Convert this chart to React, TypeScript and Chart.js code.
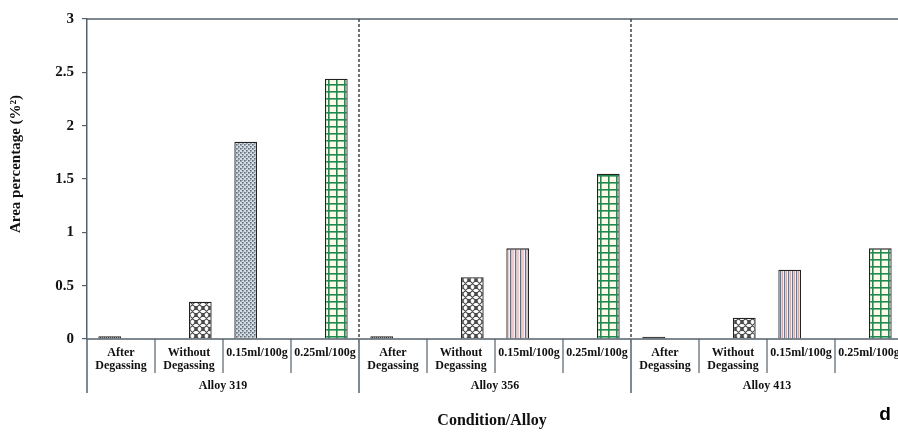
import React, { useEffect, useRef } from "react";
import { Chart, registerables } from "chart.js";

Chart.register(...registerables);

// Groups and conditions along the x axis
const alloys = ["Alloy 319", "Alloy 356", "Alloy 413"];
const conditions: string[][] = [
  ["After", "Degassing"],
  ["Without", "Degassing"],
  ["0.15ml/100g"],
  ["0.25ml/100g"],
];

// Area percentage (%²) per alloy for each condition
const afterDegassing = [0.025, 0.025, 0.02];
const withoutDegassing = [0.35, 0.58, 0.2];
const dose015 = [1.85, 0.85, 0.65];
const dose025 = [2.44, 1.55, 0.85];

// Y axis range and ticks
const yMin = 0;
const yMax = 3;
const yStep = 0.5;

const axisTitleY = "Area percentage (%²)";
const axisTitleX = "Condition/Alloy";
const panelLetter = "d";

const SERIF = "'Liberation Serif', 'Times New Roman', serif";
const LINE = "#56626a";

function makePattern(
  w: number,
  h: number,
  draw: (c: CanvasRenderingContext2D) => void
): CanvasPattern | string {
  const cv = document.createElement("canvas");
  cv.width = w;
  cv.height = h;
  const c = cv.getContext("2d");
  if (!c) return "#ccc";
  draw(c);
  const p = document.createElement("canvas").getContext("2d")!.createPattern(cv, "repeat");
  return p || "#ccc";
}

function buildPatterns() {
  const fineVertical = makePattern(2, 4, (c) => {
    c.fillStyle = "#9a9a9a";
    c.fillRect(0, 0, 2, 4);
    c.fillStyle = "#111";
    c.fillRect(0, 0, 1, 4);
  });
  const solidDark = "#101010";
  const chainLink = makePattern(7, 7, (c) => {
    c.fillStyle = "#ffffff";
    c.fillRect(0, 0, 7, 7);
    c.strokeStyle = "#4a4a4a";
    c.lineWidth = 1.1;
    c.beginPath();
    c.moveTo(-1, -1);
    c.lineTo(8, 8);
    c.moveTo(8, -1);
    c.lineTo(-1, 8);
    c.moveTo(2.5, -1);
    c.lineTo(-1, 2.5);
    c.moveTo(4.5, -1);
    c.lineTo(8, 2.5);
    c.moveTo(-1, 4.5);
    c.lineTo(2.5, 8);
    c.moveTo(8, 4.5);
    c.lineTo(4.5, 8);
    c.stroke();
  });
  const dotted = makePattern(4, 4, (c) => {
    c.fillStyle = "#d2dde6";
    c.fillRect(0, 0, 4, 4);
    c.fillStyle = "#5d6d7c";
    c.fillRect(0, 0, 1.6, 1.6);
    c.fillRect(2, 2, 1.6, 1.6);
    c.fillStyle = "#b9a39e";
    c.fillRect(2, 0, 1, 1);
  });
  const greenGrid = makePattern(8, 7, (c) => {
    c.fillStyle = "#fffbea";
    c.fillRect(0, 0, 8, 7);
    c.fillStyle = "#1f8a52";
    c.fillRect(0, 0, 1.6, 7);
    c.fillRect(0, 0, 8, 1.6);
  });
  const stripesWide = makePattern(5, 4, (c) => {
    c.fillStyle = "#fbefed";
    c.fillRect(0, 0, 5, 4);
    c.fillStyle = "#5f6f8c";
    c.fillRect(0, 0, 1.3, 4);
    c.fillStyle = "#e2a49d";
    c.fillRect(2.5, 0, 1, 4);
  });
  const stripesNarrow = makePattern(4, 4, (c) => {
    c.fillStyle = "#fbefed";
    c.fillRect(0, 0, 4, 4);
    c.fillStyle = "#5f78a0";
    c.fillRect(0, 0, 1.2, 4);
    c.fillStyle = "#e2a6a0";
    c.fillRect(2, 0, 1, 4);
  });
  return { fineVertical, solidDark, chainLink, dotted, greenGrid, stripesWide, stripesNarrow };
}

export default function App() {
  const ref = useRef<HTMLCanvasElement | null>(null);

  useEffect(() => {
    if (!ref.current) return;
    const pt = buildPatterns();
    const afterFill = [pt.fineVertical, pt.fineVertical, pt.solidDark];
    const dose015Fill = [pt.dotted, pt.stripesWide, pt.stripesNarrow];

    const labels: string[] = [];
    const left: (number | null)[] = [];
    const right: (number | null)[] = [];
    const leftFill: (CanvasPattern | string)[] = [];
    const rightFill: (CanvasPattern | string)[] = [];
    alloys.forEach((alloy, g) => {
      conditions.forEach((cond, k) => {
        labels.push(alloy + " " + cond.join(" "));
        if (k === 0) {
          left.push(afterDegassing[g]);
          right.push(null);
          leftFill.push(afterFill[g]);
          rightFill.push("#fff");
        } else if (k === 1) {
          left.push(null);
          right.push(withoutDegassing[g]);
          leftFill.push("#fff");
          rightFill.push(pt.chainLink);
        } else if (k === 2) {
          left.push(dose015[g]);
          right.push(null);
          leftFill.push(dose015Fill[g]);
          rightFill.push("#fff");
        } else {
          left.push(null);
          right.push(dose025[g]);
          leftFill.push("#fff");
          rightFill.push(pt.greenGrid);
        }
      });
    });

    const decorations = {
      id: "decorations",
      afterDraw(chart: any) {
        const ctx: CanvasRenderingContext2D = chart.ctx;
        const area = chart.chartArea;
        const x = chart.scales.x;
        const n = labels.length;
        const step = x.getPixelForValue(1) - x.getPixelForValue(0);
        const edge = (i: number) => x.getPixelForValue(i) - step / 2;
        const bottom = area.bottom;
        ctx.save();
        ctx.strokeStyle = LINE;
        ctx.lineWidth = 1.5;
        // frame top and base line
        ctx.beginPath();
        ctx.moveTo(area.left, area.top);
        ctx.lineTo(area.right + 10, area.top);
        ctx.moveTo(area.left, bottom);
        ctx.lineTo(area.right + 10, bottom);
        ctx.stroke();
        // left axis extends down through the label rows
        ctx.beginPath();
        ctx.moveTo(area.left, bottom);
        ctx.lineTo(area.left, bottom + 54);
        ctx.stroke();
        // group dividers
        for (let g = 1; g < alloys.length; g++) {
          const gx = edge(g * conditions.length);
          ctx.strokeStyle = "#3d474d";
          ctx.setLineDash([3, 2]);
          ctx.beginPath();
          ctx.moveTo(gx, area.top);
          ctx.lineTo(gx, bottom);
          ctx.stroke();
          ctx.setLineDash([]);
          ctx.strokeStyle = LINE;
          ctx.beginPath();
          ctx.moveTo(gx, bottom);
          ctx.lineTo(gx, bottom + 54);
          ctx.stroke();
        }
        // condition cell separators
        ctx.lineWidth = 1.2;
        for (let i = 1; i < n; i++) {
          if (i % conditions.length === 0) continue;
          const sx = edge(i);
          ctx.beginPath();
          ctx.moveTo(sx, bottom);
          ctx.lineTo(sx, bottom + 34);
          ctx.stroke();
        }
        // condition labels
        ctx.fillStyle = "#111";
        ctx.textAlign = "center";
        ctx.textBaseline = "middle";
        ctx.font = "bold 12px " + SERIF;
        for (let i = 0; i < n; i++) {
          const cond = conditions[i % conditions.length];
          const cx = x.getPixelForValue(i);
          cond.forEach((line, j) => {
            ctx.fillText(line, cx, bottom + 14 + j * 13);
          });
        }
        // alloy labels
        alloys.forEach((alloy, g) => {
          const a = edge(g * conditions.length);
          const b = edge((g + 1) * conditions.length);
          ctx.fillText(alloy, (a + b) / 2, bottom + 47);
        });
        // axis titles
        ctx.font = "bold 16px " + SERIF;
        ctx.fillText(axisTitleX, 492, 421);
        ctx.save();
        ctx.translate(16, 164);
        ctx.rotate(-Math.PI / 2);
        ctx.font = "bold 15px " + SERIF;
        ctx.fillText(axisTitleY, 0, 0);
        ctx.restore();
        // panel letter
        ctx.font = "bold 19px 'Liberation Sans', Arial, sans-serif";
        ctx.fillStyle = "#000";
        ctx.fillText(panelLetter, 885, 415);
        ctx.restore();
      },
    };

    const chart = new Chart(ref.current, {
      type: "bar",
      data: {
        labels,
        datasets: [
          {
            data: left,
            backgroundColor: leftFill as any,
            borderColor: "#222",
            borderWidth: 1.3,
            categoryPercentage: 2 / 3,
            barPercentage: 1,
          },
          {
            data: right,
            backgroundColor: rightFill as any,
            borderColor: "#222",
            borderWidth: 1.3,
            categoryPercentage: 2 / 3,
            barPercentage: 1,
          },
        ],
      },
      options: {
        responsive: false,
        animation: false,
        layout: { padding: { left: 0, right: 7, top: 19, bottom: 93 } },
        plugins: {
          legend: { display: false },
          tooltip: { enabled: false },
          title: { display: false },
        },
        scales: {
          x: { display: false },
          y: {
            min: yMin,
            max: yMax,
            afterFit: (s: any) => {
              s.width = 87;
            },
            border: { color: LINE, width: 1.5 },
            grid: {
              drawOnChartArea: false,
              drawTicks: true,
              tickLength: 5,
              color: LINE,
              lineWidth: 1.2,
            },
            ticks: {
              stepSize: yStep,
              padding: 8,
              color: "#111",
              font: { family: SERIF, size: 15, weight: "bold" },
              callback: (v: any) => String(Number(v)),
            },
          },
        },
      },
      plugins: [decorations],
    });
    return () => chart.destroy();
  }, []);

  return (
    <div
      style={{
        position: "fixed",
        left: 0,
        top: 0,
        width: 898,
        height: 432,
        overflow: "hidden",
        background: "#fff",
      }}
    >
      <canvas ref={ref} width={910} height={432} style={{ width: 910, height: 432 }} />
    </div>
  );
}
